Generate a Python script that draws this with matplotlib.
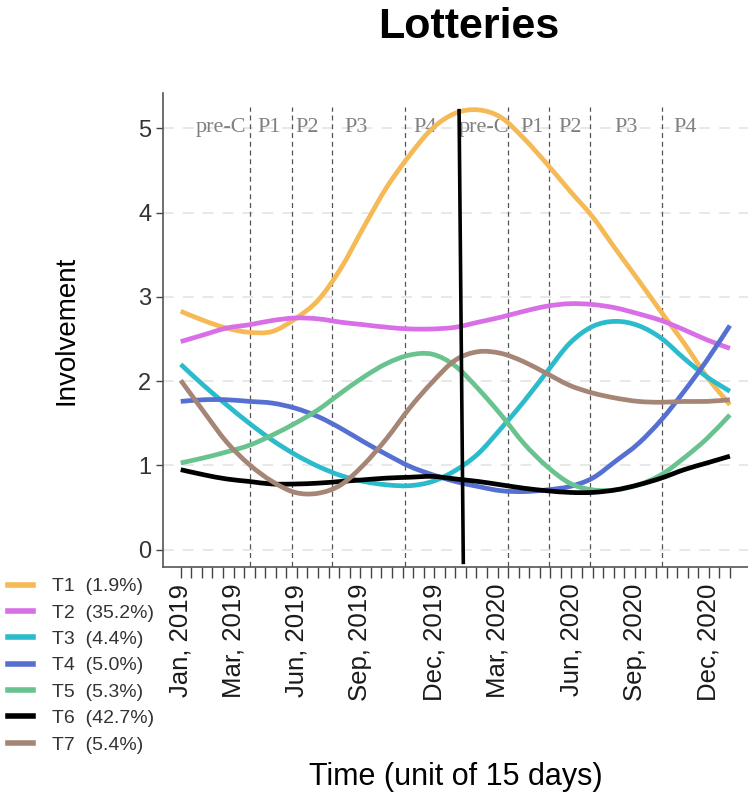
import matplotlib
matplotlib.use("Agg")
import matplotlib.pyplot as plt
from matplotlib.path import Path
from matplotlib.patches import PathPatch
import numpy as np

plt.rcParams['font.family'] = ['Liberation Sans', 'DejaVu Sans']

# days since 2019-01-01, one sample roughly every 30 days
days = np.linspace(0, 728, 25)

t1 = [2.83, 2.72, 2.63, 2.58, 2.59, 2.74, 2.96, 3.34, 3.83, 4.30, 4.68, 5.00, 5.18,
      5.22, 5.13, 4.88, 4.58, 4.26, 3.95, 3.57, 3.20, 2.82, 2.45, 2.05, 1.72]
t2 = [2.47, 2.55, 2.63, 2.67, 2.72, 2.75, 2.74, 2.70, 2.67, 2.64, 2.62, 2.62, 2.64,
      2.70, 2.76, 2.83, 2.89, 2.92, 2.91, 2.87, 2.80, 2.72, 2.61, 2.49, 2.39]
t3 = [2.20, 1.95, 1.72, 1.50, 1.30, 1.13, 0.99, 0.88, 0.81, 0.77, 0.76, 0.81, 0.94,
      1.14, 1.44, 1.76, 2.11, 2.45, 2.65, 2.71, 2.66, 2.51, 2.27, 2.05, 1.88]
t4 = [1.76, 1.78, 1.78, 1.76, 1.74, 1.68, 1.58, 1.44, 1.28, 1.13, 0.99, 0.89, 0.81,
      0.75, 0.70, 0.69, 0.71, 0.75, 0.85, 1.05, 1.26, 1.54, 1.88, 2.25, 2.66]
t5 = [1.03, 1.09, 1.16, 1.24, 1.36, 1.50, 1.66, 1.86, 2.05, 2.21, 2.31, 2.32, 2.18,
      1.91, 1.60, 1.26, 0.99, 0.79, 0.71, 0.71, 0.77, 0.89, 1.09, 1.32, 1.60]
t6 = [0.95, 0.89, 0.84, 0.81, 0.78, 0.78, 0.79, 0.81, 0.83, 0.85, 0.86, 0.87, 0.84,
      0.81, 0.77, 0.73, 0.70, 0.68, 0.68, 0.71, 0.77, 0.85, 0.95, 1.03, 1.11]
t7 = [2.01, 1.64, 1.28, 1.01, 0.81, 0.68, 0.67, 0.77, 1.01, 1.32, 1.68, 1.99, 2.25,
      2.35, 2.33, 2.23, 2.09, 1.95, 1.86, 1.80, 1.76, 1.75, 1.76, 1.76, 1.78]

topics = ['T1', 'T2', 'T3', 'T4', 'T5', 'T6', 'T7']
shares = [1.9, 35.2, 4.4, 5.0, 5.3, 42.7, 5.4]
colors = ['#F5B955', '#D86FE6', '#2BBBCC', '#5670D2', '#68C38F', '#000000', '#A58575']

phase_breaks = [92.2, 148, 199.9, 297.3, 433.5, 488.6, 542.6, 638]
phase_names = ['pre-C', 'P1', 'P2', 'P3', 'P4'] * 2
phase_label_days = [53.5, 117.5, 168, 232.5, 324.5, 402, 466, 516, 590, 669]
covid_line = ([369, 374.6], [5.21, -0.15])

tick_days = np.arange(0, 729, 14)
month_labels = {0: 'Jan, 2019', 5: 'Mar, 2019', 11: 'Jun, 2019', 17: 'Sep, 2019',
                24: 'Dec, 2019', 30: 'Mar, 2020', 37: 'Jun, 2020', 43: 'Sep, 2020',
                50: 'Dec, 2020'}


def smooth_path(x, y):
    # Catmull-Rom segments written as cubic Bezier curves through every point
    pts = np.column_stack([x, y])
    verts = [pts[0]]
    codes = [Path.MOVETO]
    for i in range(len(pts) - 1):
        p0 = pts[max(i - 1, 0)]
        p1, p2 = pts[i], pts[i + 1]
        p3 = pts[min(i + 2, len(pts) - 1)]
        verts += [p1 + (p2 - p0) / 6, p2 - (p3 - p1) / 6, p2]
        codes += [Path.CURVE4] * 3
    return Path(verts, codes)


fig = plt.figure(figsize=(7.48, 7.94), dpi=100)
ax = fig.add_axes([163 / 748, 1 - 567 / 794, 1 - 163 / 748, (567 - 93) / 794])

for y in range(6):
    ax.axhline(y, color='#e6e6e6', lw=1.3, ls=(0, (6, 5)), zorder=0)

for d in phase_breaks:
    ax.plot([d, d], [-0.3, 5.25], color='#555555', lw=0.9, ls=(0, (4, 3)), zorder=1)

for name, d in zip(phase_names, phase_label_days):
    ax.text(d, 5.01, name, ha='center', va='center', fontsize=16,
            family='Liberation Serif', color='#808080', zorder=2)

series = [t1, t2, t3, t4, t5, t6, t7]
for name, share, vals, c in zip(topics, shares, series, colors):
    ax.add_patch(PathPatch(smooth_path(days, vals), facecolor='none', edgecolor=c,
                           lw=3.4, capstyle='butt', zorder=3))
    # invisible line gives the legend entry
    ax.plot([], [], color=c, lw=4, label=f'{name}  ({share:.1f}%)')

ax.plot(covid_line[0], covid_line[1], color='black', lw=2.6, zorder=5)

ax.set_xlim(-23.5, 752)
ax.set_ylim(-0.205, 5.42)
ax.set_yticks(range(6))
ax.set_xticks(tick_days)
ax.set_xticklabels([month_labels.get(i, '') for i in range(len(tick_days))],
                   rotation=90, fontsize=18.5, color='#1a1a1a')
ax.tick_params(axis='x', length=8, width=1, color='#444444', pad=4)
ax.tick_params(axis='y', length=5, width=1, color='#444444', labelsize=17,
               labelcolor='#333333')
for s in ['top', 'right']:
    ax.spines[s].set_visible(False)
for s in ['left', 'bottom']:
    ax.spines[s].set_color('#555555')
    ax.spines[s].set_linewidth(1.2)

ax.set_ylabel('Involvement', fontsize=20, labelpad=42)
ax.set_xlabel('Time (unit of 15 days)', fontsize=22, labelpad=44)

fig.text(469 / 748, 1 - 38 / 794, 'Lotteries', ha='center', va='baseline',
         fontsize=31, fontweight='bold')

leg = fig.legend(loc='upper left', bbox_to_anchor=(0.0, 1 - 570 / 794), frameon=False,
                 fontsize=14, handlelength=1.3, handletextpad=1.0, labelspacing=0.45,
                 borderaxespad=0)
for txt in leg.get_texts():
    txt.set_color('#333333')

fig.savefig('out.png', dpi=100)
